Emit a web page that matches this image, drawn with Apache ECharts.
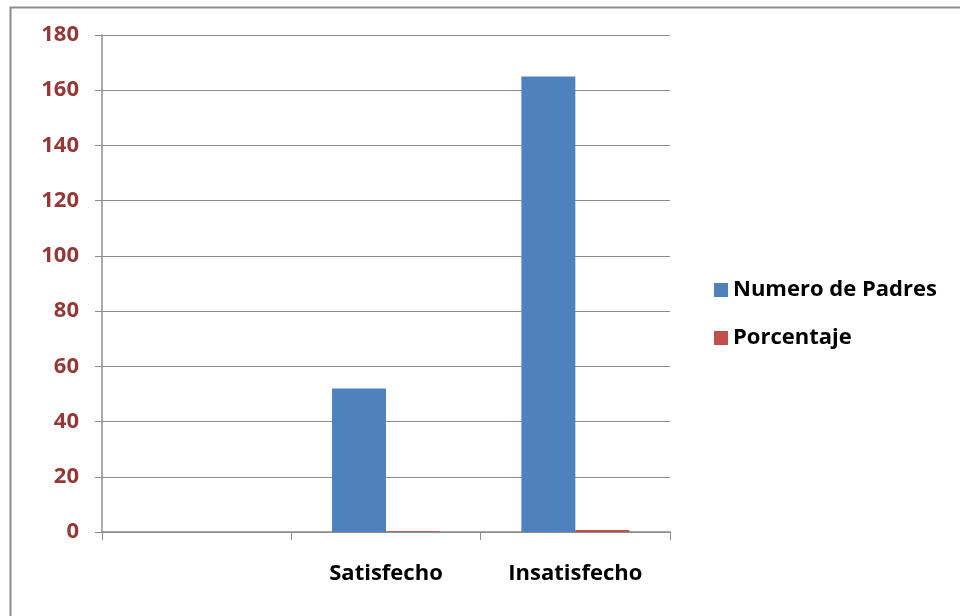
<!DOCTYPE html>
<html><head><meta charset="utf-8">
<script src="https://cdn.jsdelivr.net/npm/echarts@6/dist/echarts.min.js"></script>
<style>html,body{margin:0;padding:0;background:#fff}#c{width:960px;height:616px}</style>
</head><body><div id="c"></div>
<script>
const categories = ['', 'Satisfecho', 'Insatisfecho'];
const numeroPadres = [null, 52, 165];
const porcentaje = [null, 0.24, 0.76];
const yTicks = { min: 0, max: 180, interval: 20 };

const chart = echarts.init(document.getElementById('c'));
const font = '"Open Sans", Lato, "Liberation Sans", sans-serif';
chart.setOption({
  animation: false,
  backgroundColor: '#fff',
  graphic: [{
    type: 'rect', left: 8, top: 5, z: -1,
    shape: { width: 1000, height: 700 },
    style: { fill: 'none', stroke: '#8c8c8c', lineWidth: 2 }
  }],
  grid: { left: 102, right: 290, top: 35, bottom: 84, containLabel: false },
  legend: {
    orient: 'vertical', left: 709, top: 274, itemGap: 26, padding: 5,
    itemWidth: 14, itemHeight: 14, icon: 'rect',
    textStyle: { fontFamily: font, fontWeight: 'bold', fontSize: 22, color: '#000', padding: [0,0,0,0] },
    data: ['Numero de Padres', 'Porcentaje']
  },
  xAxis: {
    type: 'category', data: categories,
    axisLine: { lineStyle: { color: '#8c8c8c', width: 1.5 } },
    axisTick: { show: true, length: 8, lineStyle: { color: '#8c8c8c' } },
    axisLabel: { fontFamily: font, fontWeight: 'bold', fontSize: 22, color: '#000', margin: 31 }
  },
  yAxis: {
    type: 'value', min: yTicks.min, max: yTicks.max, interval: yTicks.interval,
    axisLine: { show: true, lineStyle: { color: '#8c8c8c', width: 1.5 } },
    axisTick: { show: true, length: 7, lineStyle: { color: '#8c8c8c' } },
    splitLine: { lineStyle: { color: '#8c8c8c', width: 1 } },
    axisLabel: { fontFamily: font, fontWeight: 'bold', fontSize: 22, color: '#953735', margin: 23 }
  },
  series: [
    { name: 'Numero de Padres', type: 'bar', data: numeroPadres, barGap: '0%', barCategoryGap: '43%', itemStyle: { color: '#4F81BD' } },
    { name: 'Porcentaje', type: 'bar', data: porcentaje, itemStyle: { color: '#C0504D' } }
  ]
});
</script></body></html>
